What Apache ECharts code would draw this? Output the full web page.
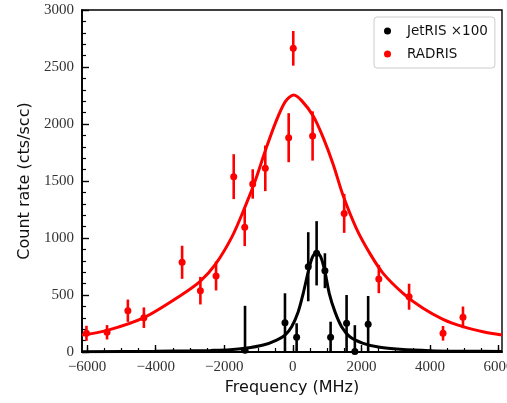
<!DOCTYPE html>
<html>
<head>
<meta charset="utf-8">
<script src="https://cdn.jsdelivr.net/npm/echarts@6/dist/echarts.min.js"></script>
<style>
html,body{margin:0;padding:0;background:#fff;}
#chart{width:507px;height:403px;}
</style>
</head>
<body>
<div id="chart"></div>
<script>
// ---- data ----
const radrisX   = [-6020, -5420, -4812, -4345, -3230, -2697, -2240, -1725, -1404, -1171, -804, -122, 12, 576, 1497, 2507, 3390, 4380, 4962];
const radrisY   = [164, 173, 362, 301, 787, 538, 667, 1538, 1094, 1474, 1611, 1880, 2664, 1895, 1216, 640, 485, 164, 304];
const radrisErr = [66, 63, 98, 90, 145, 121, 127, 197, 165, 129, 200, 215, 152, 216, 171, 124, 114, 64, 95];

const jetX   = [-1395, -230, 110, 449, 693, 935, 1101, 1567, 1808, 2196];
const jetY   = [15, 257, 129, 748, 866, 713, 129, 252, 5, 243];
const jetErr = [390, 258, 123, 303, 282, 153, 137, 248, 230, 248];

const radrisFitX = [-6150, -5415, -4345, -3230, -2697, -2260, -1773, -1386, -1095, -804, -513, -221, 23, 256, 594, 885, 1177, 1468, 1858, 2245, 2633, 3215, 3797, 4380, 4962, 5545, 6100];
const radrisFitY = [149, 190, 302, 505, 622, 768, 1012, 1280, 1505, 1765, 2006, 2196, 2254, 2205, 2070, 1880, 1645, 1370, 1080, 865, 690, 515, 383, 287, 222, 178, 149];

const jetFitX = [-6150, -4000, -3000, -2400, -1832, -1395, -862, -472, -230, -35, 157, 303, 449, 577, 693, 810, 935, 1061, 1227, 1421, 1663, 2050, 2536, 3118, 4000, 5000, 6100];
const jetFitY = [3, 6, 10, 14, 20, 32, 61, 105, 149, 222, 354, 515, 705, 836, 871, 836, 705, 515, 354, 222, 134, 76, 41, 24, 12, 7, 4];

const xMajorTicks = [-6000, -4000, -2000, 0, 2000, 4000, 6000];
const xMinorTicks = [-6000, -5500, -5000, -4500, -4000, -3500, -3000, -2500, -2000, -1500, -1000, -500, 0, 500, 1000, 1500, 2000, 2500, 3000, 3500, 4000, 4500, 5000, 5500, 6000];
const xRange = [-6150, 6100];
const yRange = [0, 3000];
const yInterval = 500;

const seriesNames = ['JetRIS ×100', 'RADRIS'];
const axisNames = ['Frequency (MHz)', 'Count rate (cts/scc)'];

// ---- build ----
const zip = (a, b, c) => a.map((v, i) => c ? [v, b[i], c[i]] : [v, b[i]]);
const fmt = v => (v < 0 ? '\u2212' + Math.abs(v) : String(v));
const serif = 'Liberation Serif';
const sans = 'DejaVu Sans';

function errBar(color) {
  return function (params, api) {
    const x = api.value(0), y = api.value(1), e = api.value(2);
    const p1 = api.coord([x, y - e]);
    const p2 = api.coord([x, y + e]);
    return {
      type: 'line',
      shape: { x1: p1[0], y1: p1[1], x2: p2[0], y2: p2[1] },
      style: { stroke: color, lineWidth: 2.6 }
    };
  };
}

const chart = echarts.init(document.getElementById('chart'), null, { renderer: 'canvas' });
chart.setOption({
  animation: false,
  backgroundColor: '#fff',
  grid: {
    left: 82, top: 10, right: 5, bottom: 51,
    show: true, borderColor: '#000', borderWidth: 1.4,
    containLabel: false, outerBoundsMode: 'none'
  },
  legend: {
    data: seriesNames,
    orient: 'vertical',
    left: 374, top: 17,
    padding: [6, 7, 6, 10],
    itemWidth: 7, itemHeight: 7, itemGap: 7,
    icon: 'circle',
    borderColor: '#cccccc', borderWidth: 1, borderRadius: 3,
    backgroundColor: '#fff',
    textStyle: { fontFamily: sans, fontSize: 13.5, color: '#111', lineHeight: 16, padding: [0, 0, 0, 11] }
  },
  xAxis: [
    {
      type: 'value', min: xRange[0], max: xRange[1], position: 'bottom',
      name: axisNames[0], nameLocation: 'middle', nameGap: 26,
      nameTextStyle: { fontFamily: sans, fontSize: 16, color: '#111' },
      axisLine: { show: true, onZero: false, lineStyle: { color: '#000', width: 1.8 } },
      axisTick: { show: true, inside: true, length: 7, customValues: xMajorTicks, lineStyle: { color: '#000', width: 1.4 } },
      axisLabel: { customValues: xMajorTicks, formatter: fmt, fontFamily: serif, fontSize: 15, color: '#333', margin: 8 },
      splitLine: { show: false }
    },
    {
      type: 'value', min: xRange[0], max: xRange[1], position: 'bottom', gridIndex: 0,
      axisLine: { show: false, onZero: false },
      axisTick: { show: true, inside: true, length: 4, customValues: xMinorTicks, lineStyle: { color: '#000', width: 1.2 } },
      axisLabel: { show: false },
      splitLine: { show: false }
    }
  ],
  yAxis: {
    type: 'value', min: yRange[0], max: yRange[1], interval: yInterval,
    name: axisNames[1], nameLocation: 'middle', nameGap: 48,
    nameTextStyle: { fontFamily: sans, fontSize: 16, color: '#111' },
    axisLine: { show: true, onZero: false, lineStyle: { color: '#000', width: 1.8 } },
    axisTick: { show: true, inside: true, length: 7, lineStyle: { color: '#000', width: 1.4 } },
    minorTick: { show: true, splitNumber: 5, length: 4, lineStyle: { color: '#000', width: 1.2 } },
    axisLabel: { formatter: fmt, fontFamily: serif, fontSize: 15, color: '#333', margin: 8 },
    splitLine: { show: false },
    minorSplitLine: { show: false }
  },
  series: [
    {
      type: 'custom', name: 'jetErr', renderItem: errBar('#000'), clip: true,
      data: zip(jetX, jetY, jetErr), z: 2, silent: true
    },
    {
      type: 'custom', name: 'radErr', renderItem: errBar('#ff0000'), clip: true,
      data: zip(radrisX, radrisY, radrisErr), z: 2, silent: true
    },
    {
      type: 'scatter', name: seriesNames[0], data: zip(jetX, jetY),
      symbol: 'circle', symbolSize: 7, itemStyle: { color: '#000', opacity: 1 }, clip: true, z: 3
    },
    {
      type: 'scatter', name: seriesNames[1], data: zip(radrisX, radrisY),
      symbol: 'circle', symbolSize: 7, itemStyle: { color: '#ff0000', opacity: 1 }, clip: true, z: 3
    },
    {
      type: 'line', name: 'jetFit', data: zip(jetFitX, jetFitY), smooth: 0.3,
      showSymbol: false, symbol: 'none', lineStyle: { color: '#000', width: 3 }, clip: true, z: 4, silent: true
    },
    {
      type: 'line', name: 'radFit', data: zip(radrisFitX, radrisFitY), smooth: 0.3,
      showSymbol: false, symbol: 'none', lineStyle: { color: '#ff0000', width: 3 }, clip: true, z: 4, silent: true
    }
  ]
});
</script>
</body>
</html>
